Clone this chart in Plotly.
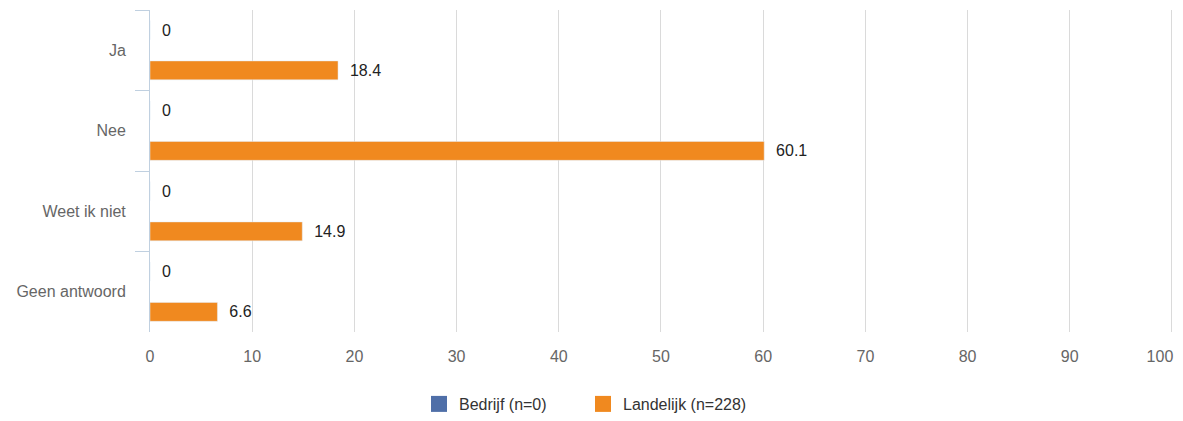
import plotly.graph_objects as go

categories = ["Ja", "Nee", "Weet ik niet", "Geen antwoord"]
bedrijf = [0, 0, 0, 0]
landelijk = [18.4, 60.1, 14.9, 6.6]
series_names = ["Bedrijf (n=0)", "Landelijk (n=228)"]
series_colors = ["#4f6fa8", "#f0891f"]
x_ticks = [0, 10, 20, 30, 40, 50, 60, 70, 80, 90, 100]
x_ticktext = ["0", "10", "20", "30", "40", "50", "60", "70", "80", "90", ""]
x_last_tick = [100]
x_last_text = ["100"]

FONT = "Liberation Sans, Arial, sans-serif"

fig = go.Figure()
for vals, name, color in zip([bedrijf, landelijk], series_names, series_colors):
    fig.add_trace(go.Bar(
        y=categories, x=vals, orientation="h", name=name,
        marker=dict(color=color), showlegend=False,
        text=[f"\u00a0\u00a0{v:g}" for v in vals], textposition="outside",
        textfont=dict(color="#222222", size=16, family=FONT),
        cliponaxis=False,
    ))
# legend swatches
for name, color in zip(series_names, series_colors):
    fig.add_trace(go.Scatter(
        x=[None], y=[None], mode="markers", name=name,
        marker=dict(symbol="square", size=18, color=color),
        showlegend=True,
    ))
# helper trace for the overlay axis carrying the last tick label
fig.add_trace(go.Scatter(x=[None], y=[None], xaxis="x2", showlegend=False,
                         hoverinfo="skip"))

XRANGE = [0, 100.2]
W, H = 1167, 405

fig.update_layout(
    width=W, height=H,
    margin=dict(l=142, r=1, t=2, b=81, autoexpand=False),
    barmode="group", bargap=0, bargroupgap=0.53,
    plot_bgcolor="white", paper_bgcolor="white",
    font=dict(family=FONT, size=16, color="#666666"),
    showlegend=True,
    legend=dict(orientation="h", xref="container", yref="container",
                x=411 / W, xanchor="left", y=1 - 396 / H, yanchor="middle",
                entrywidth=119, entrywidthmode="pixels",
                font=dict(size=16, color="#333333"), traceorder="normal"),
    xaxis=dict(range=XRANGE, tickvals=x_ticks, ticktext=x_ticktext,
               showgrid=True, automargin=False,
               gridcolor="#dadada", zeroline=False, showline=False,
               ticks="outside", ticklen=10, tickcolor="rgba(0,0,0,0)",
               tickfont=dict(size=16, color="#666666"), fixedrange=True),
    xaxis2=dict(range=XRANGE, overlaying="x", side="bottom",
                tickvals=x_last_tick, ticktext=x_last_text,
                ticklabelshift=-12, ticklabeloverflow="allow",
                showgrid=False, zeroline=False,
                showline=False, automargin=False,
                ticks="outside", ticklen=10, tickcolor="rgba(0,0,0,0)",
                tickfont=dict(size=16, color="#666666"), fixedrange=True),
    yaxis=dict(autorange="reversed", tickson="boundaries", ticks="outside",
               ticklen=14, tickcolor="#c0d0e0", showline=True,
               linecolor="#c0d0e0", linewidth=1, showgrid=False,
               ticklabelstandoff=20, automargin=False,
               tickfont=dict(size=16, color="#666666")),
)

fig.write_html("out.html")
